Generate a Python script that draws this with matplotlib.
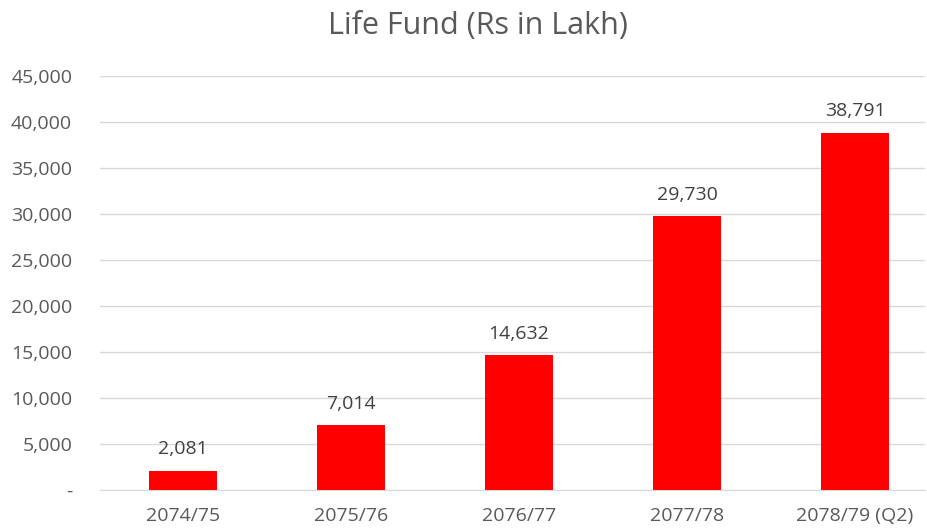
import matplotlib
matplotlib.use("Agg")
import matplotlib.pyplot as plt
from matplotlib.ticker import FuncFormatter, MultipleLocator

categories = ["2074/75", "2075/76", "2076/77", "2077/78", "2078/79 (Q2)"]
values = [2081, 7014, 14632, 29730, 38791]
title = "Life Fund (Rs in Lakh)"

plt.rcParams['font.family'] = ['Open Sans', 'DejaVu Sans']
text_color = "#595959"

fig = plt.figure(figsize=(9.28, 5.31), dpi=100)
ax = fig.add_axes([100/928, 1 - 490/531, 825/928, (490-76)/531])

x = list(range(len(categories)))
ax.bar(x, values, width=0.4, color="#FF0000", zorder=3)
for xi, v in zip(x, values):
    ax.annotate(f"{v:,}", (xi, v), xytext=(0, 12), textcoords="offset points",
                ha="center", va="baseline", fontsize=14, color="#404040")

ax.set_ylim(0, 45000)
ax.set_xlim(-0.494, 4.417)
ax.yaxis.set_major_locator(MultipleLocator(5000))
ax.yaxis.set_major_formatter(FuncFormatter(lambda v, p: "-" if v == 0 else f"{int(v):,}"))
ax.set_xticks(x)
ax.set_xticklabels(categories)
ax.grid(axis="y", color="#D9D9D9", linewidth=1, zorder=0)
for s in ["top", "right", "left"]:
    ax.spines[s].set_visible(False)
ax.spines["bottom"].set_color("#D9D9D9")
ax.tick_params(axis="both", length=0, labelsize=14, colors=text_color)
ax.tick_params(axis="x", pad=12)
ax.tick_params(axis="y", pad=20)
for lbl in ax.get_yticklabels():
    lbl.set_horizontalalignment("right")

fig.text(478/928, 1 - 26/531, title, ha="center", va="center", fontsize=22, color=text_color)

fig.savefig("out.png", dpi=100)
